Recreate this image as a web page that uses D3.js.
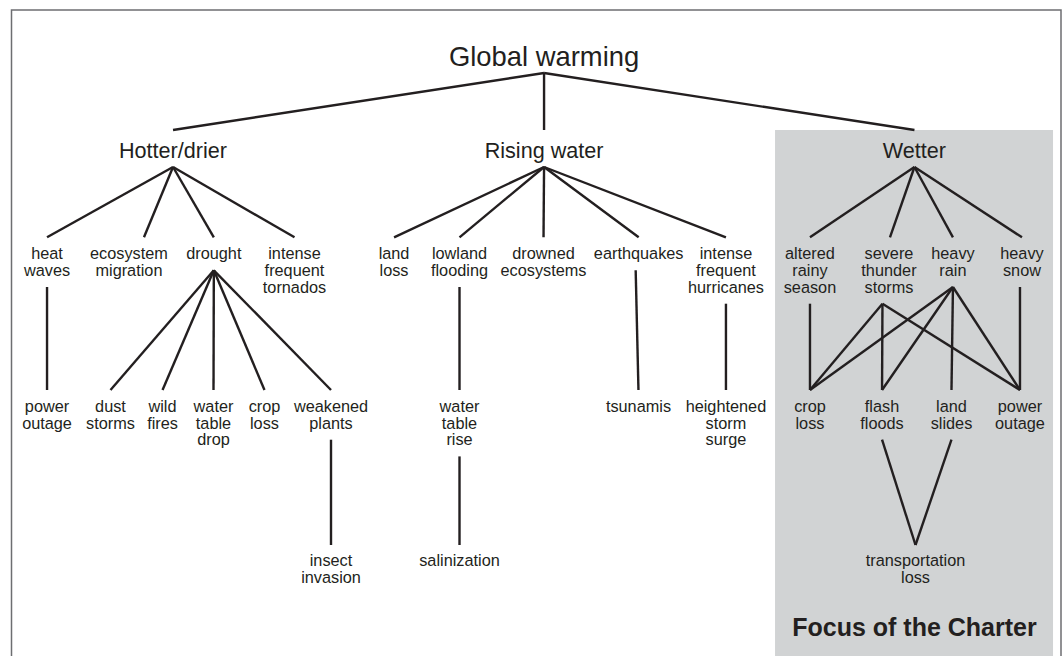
<!DOCTYPE html>
<html>
<head>
<meta charset="utf-8">
<script src="https://cdn.jsdelivr.net/npm/d3@7"></script>
<style>
  html, body { margin: 0; padding: 0; background: #fff; }
  svg { display: block; font-family: "Liberation Sans", Arial, Helvetica, sans-serif; }
</style>
</head>
<body>
<svg id="chart" width="1064" height="656"></svg>
<script>
// nodes per level: [id, label lines, parent ids]
const rootNodes = [
  ['gw', ['Global warming'], []]
];
const groupNodes = [
  ['hot', ['Hotter/drier'], ['gw']],
  ['rise', ['Rising water'], ['gw']],
  ['wet', ['Wetter'], ['gw']]
];
const effectNodes = [
  ['heat', ['heat', 'waves'], ['hot']],
  ['eco', ['ecosystem', 'migration'], ['hot']],
  ['drought', ['drought'], ['hot']],
  ['tornado', ['intense', 'frequent', 'tornados'], ['hot']],
  ['landLoss', ['land', 'loss'], ['rise']],
  ['lowland', ['lowland', 'flooding'], ['rise']],
  ['drowned', ['drowned', 'ecosystems'], ['rise']],
  ['quake', ['earthquakes'], ['rise']],
  ['hurricane', ['intense', 'frequent', 'hurricanes'], ['rise']],
  ['rainy', ['altered', 'rainy', 'season'], ['wet']],
  ['thunder', ['severe', 'thunder', 'storms'], ['wet']],
  ['rain', ['heavy', 'rain'], ['wet']],
  ['snow', ['heavy', 'snow'], ['wet']]
];
const impactNodes = [
  ['power1', ['power', 'outage'], ['heat']],
  ['dust', ['dust', 'storms'], ['drought']],
  ['fires', ['wild', 'fires'], ['drought']],
  ['tableDrop', ['water', 'table', 'drop'], ['drought']],
  ['crop1', ['crop', 'loss'], ['drought']],
  ['weak', ['weakened', 'plants'], ['drought']],
  ['tableRise', ['water', 'table', 'rise'], ['lowland']],
  ['tsunami', ['tsunamis'], ['quake']],
  ['surge', ['heightened', 'storm', 'surge'], ['hurricane']],
  ['crop2', ['crop', 'loss'], ['rainy', 'thunder', 'rain']],
  ['flash', ['flash', 'floods'], ['thunder', 'rain']],
  ['slides', ['land', 'slides'], ['rain']],
  ['power2', ['power', 'outage'], ['thunder', 'rain', 'snow']]
];
const outcomeNodes = [
  ['insect', ['insect', 'invasion'], ['weak']],
  ['salt', ['salinization'], ['tableRise']],
  ['transport', ['transportation', 'loss'], ['flash', 'slides']]
];
const focusLabel = 'Focus of the Charter';

// layout: column position of each node, in percent of the frame width
const columnPct = {
  gw: 50.72,
  hot: 15.35, rise: 50.72, wet: 86.03,
  heat: 3.34, eco: 11.15, drought: 19.24, tornado: 26.93,
  landLoss: 36.42, lowland: 42.66, drowned: 50.67, quake: 59.74, hurricane: 68.06,
  rainy: 76.07, thunder: 83.6, rain: 89.7, snow: 96.28,
  power1: 3.34, dust: 9.39, fires: 14.35, tableDrop: 19.21, crop1: 24.07, weak: 30.41,
  tableRise: 42.66, tsunami: 59.72, surge: 68.06,
  crop2: 76.07, flash: 82.94, slides: 89.56, power2: 96.09,
  insect: 30.41, salt: 42.66, transport: 86.13
};
// small shifts where a line does not meet the middle of its label
const topShift = { eco: 15, thunder: 1 };
const bottomShift = { thunder: -6.5, snow: -2, quake: -3 };

const levels = [rootNodes, groupNodes, effectNodes, impactNodes, outcomeNodes];
const levelBaseline = [66, 158, 259.3, 412, 566];
const levelFont = [27.4, 21.6, 16.3, 16.3, 16.3];
const levelTopGap = [0, 28, 22, 22, 21];
const lineStep = 16.7;

const W = 1064, H = 656;
const frame = { left: 11.5, right: 1061, top: 10 };
const ink = '#231f20';

const svg = d3.select('#chart');
const x = d3.scaleLinear().domain([0, 100]).range([12, 1061]);

// build node table
const nodes = [];
const byId = {};
levels.forEach((list, li) => {
  list.forEach(([id, lines, parents]) => {
    const n = { id, lines, parents, level: li };
    n.x = x(columnPct[id]);
    n.baseline = levelBaseline[li];
    n.top = n.baseline - levelTopGap[li];
    const lastBase = n.baseline + (lines.length - 1) * lineStep;
    n.bottom = li === 0 ? n.baseline + 7 : li === 1 ? n.baseline + 9 : lastBase + 11;
    nodes.push(n);
    byId[id] = n;
  });
});

const links = [];
nodes.forEach(n => n.parents.forEach(p => links.push({ source: byId[p], target: n })));

// focus area
svg.append('rect')
  .attr('x', x(72.74)).attr('y', 130)
  .attr('width', x(99.24) - x(72.74)).attr('height', H - 130 + 10)
  .attr('fill', '#d1d3d4');

// frame
svg.append('path')
  .attr('d', `M${frame.left},${H + 5}V${frame.top}H${frame.right}V${H + 5}`)
  .attr('fill', 'none')
  .attr('stroke', '#6d6e71')
  .attr('stroke-width', 1.5);

// links
svg.append('g')
  .selectAll('line')
  .data(links)
  .enter().append('line')
  .attr('x1', d => d.source.x + (bottomShift[d.source.id] || 0))
  .attr('y1', d => d.source.bottom)
  .attr('x2', d => d.target.x + (topShift[d.target.id] || 0))
  .attr('y2', d => d.target.top)
  .attr('stroke', ink)
  .attr('stroke-width', 2.4)
  .attr('stroke-linecap', 'butt');

// labels
const label = svg.append('g')
  .selectAll('text')
  .data(nodes)
  .enter().append('text')
  .attr('x', d => d.x)
  .attr('y', d => d.baseline)
  .attr('text-anchor', 'middle')
  .attr('fill', ink)
  .attr('font-size', d => levelFont[d.level] + 'px');

label.selectAll('tspan')
  .data(d => d.lines.map((t, i) => ({ t, i, x: d.x })))
  .enter().append('tspan')
  .attr('x', d => d.x)
  .attr('dy', d => d.i === 0 ? 0 : lineStep)
  .text(d => d.t);

svg.append('text')
  .attr('x', x(86.03))
  .attr('y', 636)
  .attr('text-anchor', 'middle')
  .attr('font-size', '25px')
  .attr('font-weight', 'bold')
  .attr('fill', ink)
  .text(focusLabel);
</script>
</body>
</html>
